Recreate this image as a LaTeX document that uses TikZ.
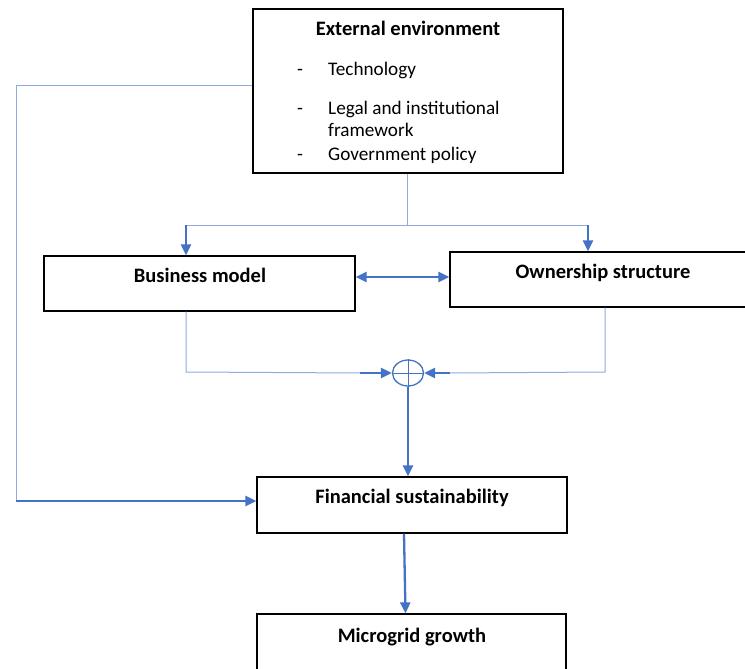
\documentclass[tikz,border=0pt]{standalone}
\usepackage{fontspec}
\setmainfont{Carlito}
\usetikzlibrary{arrows.meta,shapes.geometric}
\definecolor{thinblue}{HTML}{8FAADC}
\definecolor{thickblue}{HTML}{4472C4}
\begin{document}
\begin{tikzpicture}[x=1pt,y=-1pt,
  box/.style={draw=black,line width=1.3pt,rectangle,inner sep=0pt},
  ttl/.style={font=\fontsize{20.5}{24}\selectfont\bfseries,inner sep=0pt,text height=1.15em,text depth=0pt},
  itm/.style={font=\fontsize{19.2}{23}\selectfont,inner sep=0pt,anchor=west,text height=1.15em,text depth=0pt},
  thinln/.style={draw=thinblue,line width=1pt},
  thickarr/.style={draw=thickblue,line width=2.3pt,-{Triangle[length=11pt,width=10pt]}},
  dblarr/.style={draw=thickblue,line width=2.3pt,{Triangle[length=11pt,width=10pt]}-{Triangle[length=11pt,width=10pt]}}]
\useasboundingbox (0,0) rectangle (745,669);
% boxes
\node[box,minimum width=310pt,minimum height=164pt] (ext) at (408,91) {};
\node[box,minimum width=311pt,minimum height=55pt] (bm) at (199.5,283.5) {};
\node[box,minimum width=310pt,minimum height=55pt] (os) at (605,279.5) {};
\node[box,minimum width=310pt,minimum height=56pt] (fin) at (412,505) {};
\node[box,minimum width=309pt,minimum height=66pt] (mg) at (411.5,647) {};
\node[draw=thickblue,line width=1.3pt,ellipse,minimum width=31pt,minimum height=26pt,inner sep=0pt] (sum) at (408,373) {};
\draw[thickblue,line width=1pt] (sum.north) -- (sum.south) (sum.west) -- (sum.east);
% texts
\node[ttl] (extt) at (408,30) {External environment};
\node[itm] (d1) at (297,70) {-};
\node[itm] (t1) at (328,70) {Technology};
\node[itm] (d2) at (297,109) {-};
\node[itm] (t2) at (328,109) {Legal and institutional};
\node[itm] (t2b) at (328,131) {framework};
\node[itm] (d3) at (297,155) {-};
\node[itm] (t3) at (328,155) {Government policy};
\node[ttl] (bmt) at (200,277) {Business model};
\node[ttl] (ost) at (603,273) {Ownership structure};
\node[ttl] (fint) at (412,498) {Financial sustainability};
\node[ttl] (mgt) at (412,637) {Microgrid growth};
% coordinates
\coordinate (j) at (407,225);
\coordinate (jl) at (186,225);
\coordinate (jr) at (588,225);
\coordinate (bl) at (186,372);
\coordinate (bla) at (360,373);
\coordinate (br) at (605,372);
\coordinate (bra) at (450,373);
\coordinate (tl) at (16,86);
\coordinate (ll) at (16,501);
\coordinate (da) at (0,277);
% connectors
\draw[thinln] (ext.south -| j) -- (j);
\draw[thinln] (jl) -- (jr);
\draw[thickarr] (jl) -- (bm.north -| jl);
\draw[thickarr] (jr) -- (os.north -| jr);
\draw[dblarr] (bm.east |- da) -- (os.west |- da);
\draw[thinln] (bm.south -| bl) -- (bl) -- (bla);
\draw[thickarr] (bla) -- (sum.west);
\draw[thinln] (os.south -| br) -- (br) -- (bra);
\draw[thickarr] (bra) -- (sum.east);
\draw[thickarr] (sum.south) -- (fin.north -| sum.south);
\draw[thinln] (ext.west |- tl) -- (tl) -- (ll);
\draw[thickarr] (ll) -- (fin.west |- ll);
\draw[thickarr] ([xshift=-8pt]fin.south) -- ([xshift=-6pt]mg.north);
\end{tikzpicture}
\end{document}
